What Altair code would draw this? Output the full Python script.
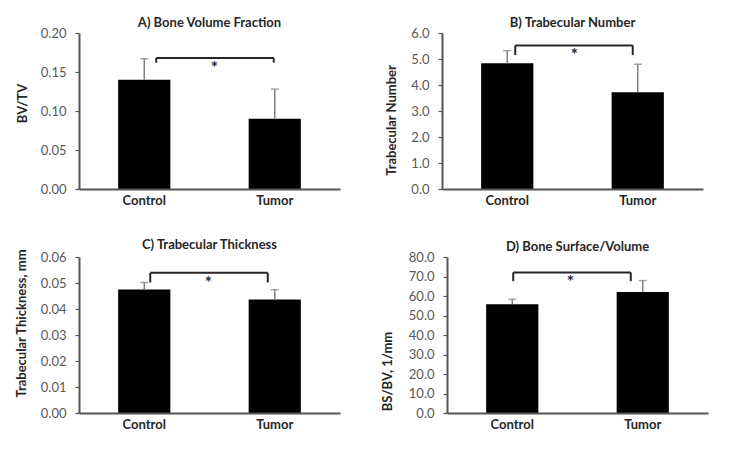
import altair as alt
import pandas as pd

groups = ["Control", "Tumor"]

titles = ["A) Bone Volume Fraction", "B) Trabecular Number",
          "C) Trabecular Thickness", "D) Bone Surface/Volume"]
y_titles = ["BV/TV", "Trabecular Number", "Trabecular Thickness, mm", "BS/BV, 1/mm"]

means_a = [0.140, 0.090]
errors_a = [0.027, 0.038]
means_b = [4.84, 3.72]
errors_b = [0.48, 1.08]
means_c = [0.0475, 0.0437]
errors_c = [0.0027, 0.0037]
means_d = [55.8, 62.0]
errors_d = [2.5, 5.9]

bracket_tops = [0.168, 5.52, 0.0539, 72.1]
bracket_feet = [0.162, 5.15, 0.0502, 67.6]

ticks_a = [0.00, 0.05, 0.10, 0.15, 0.20]
ticks_b = [0.0, 1.0, 2.0, 3.0, 4.0, 5.0, 6.0]
ticks_c = [0.00, 0.01, 0.02, 0.03, 0.04, 0.05, 0.06]
ticks_d = [0.0, 10.0, 20.0, 30.0, 40.0, 50.0, 60.0, 70.0, 80.0]

FONT = "Lato"
W = 261


def panel(title, ytitle, means, errors, top, foot, ticks, fmt, h,
          title_x, title_y, off_l, off_r, star_dx):
    df = pd.DataFrame({
        "group": groups,
        "value": means,
        "upper": [m + e for m, e in zip(means, errors)],
    })
    br = pd.DataFrame({"left": [groups[0]], "right": [groups[1]],
                       "top": [top], "foot": [foot]})
    xscale = alt.Scale(paddingInner=0.6, paddingOuter=0.3)
    xaxis = alt.Axis(title=None, labelAngle=0, labelFontWeight="bold",
                     labelFontSize=13, labelColor="#262626", ticks=False,
                     labelPadding=5, domain=True, domainColor="#555555",
                     domainWidth=2, domainDash=[], labelFont=FONT, zindex=1)
    yscale = alt.Scale(domain=[ticks[0], ticks[-1]], nice=False, zero=True)
    yaxis = alt.Axis(values=ticks, format=fmt, title=ytitle, grid=False,
                     orient="left", domain=True, ticks=True, zindex=1,
                     domainDash=[], tickDash=[], labelOverlap=False,
                     tickSize=4, tickColor="#555555", tickWidth=1.2,
                     domainColor="#555555", domainWidth=2,
                     labelFontSize=13, labelColor="#595959",
                     labelFont=FONT, labelPadding=9, titleFont=FONT,
                     titleFontSize=13, titleFontWeight="bold",
                     titleColor="#262626", titleX=title_x, titleY=title_y,
                     titleBaseline="middle", titleAngle=270)

    X = lambda f: alt.X(f, sort=groups, scale=xscale, axis=xaxis)
    Y = lambda f: alt.Y(f, scale=yscale, axis=yaxis)

    base = alt.Chart(df)
    bars = base.mark_bar(color="black").encode(
        x=X("group:N"),
        y=Y("value:Q"),
    )
    err = base.mark_rule(color="#808080", strokeWidth=1.5).encode(
        x=X("group:N"),
        y=Y("value:Q"),
        y2="upper:Q",
    )
    cap = base.mark_tick(color="#808080", orient="horizontal", size=8,
                         thickness=1.5).encode(
        x=X("group:N"),
        y=Y("upper:Q"),
    )
    bbase = alt.Chart(br)
    hline = bbase.mark_rule(color="#262626", strokeWidth=2,
                            xOffset=off_l, x2Offset=off_r).encode(
        x=X("left:N"),
        x2="right:N",
        y=Y("top:Q"),
    )
    lleg = bbase.mark_rule(color="#262626", strokeWidth=2,
                           xOffset=off_l).encode(
        x=X("left:N"),
        y=Y("top:Q"),
        y2="foot:Q",
    )
    rleg = bbase.mark_rule(color="#262626", strokeWidth=2,
                           xOffset=off_r).encode(
        x=X("right:N"),
        y=Y("top:Q"),
        y2="foot:Q",
    )
    star = bbase.mark_text(text="*", font=FONT, fontSize=17,
                           fontWeight="bold", color="#262626",
                           baseline="top", dy=3, dx=star_dx).encode(
        x=X("left:N"),
        y=Y("top:Q"),
    )
    return alt.layer(bars, err, cap, hline, lleg, rleg, star).properties(
        width=W, height=h,
        title=alt.TitleParams(title, font=FONT, fontSize=13,
                              fontWeight="bold", color="#262626",
                              offset=-3, anchor="middle"),
    )


pa = panel(titles[0], y_titles[0], means_a, errors_a, bracket_tops[0],
           bracket_feet[0], ticks_a, ".2f", 156, -56.5, 70, 12, -1, 70)
pb = panel(titles[1], y_titles[1], means_b, errors_b, bracket_tops[1],
           bracket_feet[1], ticks_b, ".1f", 156, -50.5, 87, 8, -5, 67)
pc = panel(titles[2], y_titles[2], means_c, errors_c, bracket_tops[2],
           bracket_feet[2], ticks_c, ".2f", 156, -57.5, 66, 6, -7, 64)
pd_ = panel(titles[3], y_titles[3], means_d, errors_d, bracket_tops[3],
            bracket_feet[3], ticks_d, ".1f", 156, -59.5, 114, 1, -12, 58)

row1 = alt.hconcat(pa, pb, spacing=45)
row2 = alt.hconcat(pc, pd_, spacing=41)

chart = alt.vconcat(row1, row2, spacing=31).properties(
    padding={"left": 7, "top": 9, "right": 2, "bottom": 0}
).configure_view(stroke=None, fill=None)

chart.save("out.html", embed_options={"renderer": "svg", "actions": False})
